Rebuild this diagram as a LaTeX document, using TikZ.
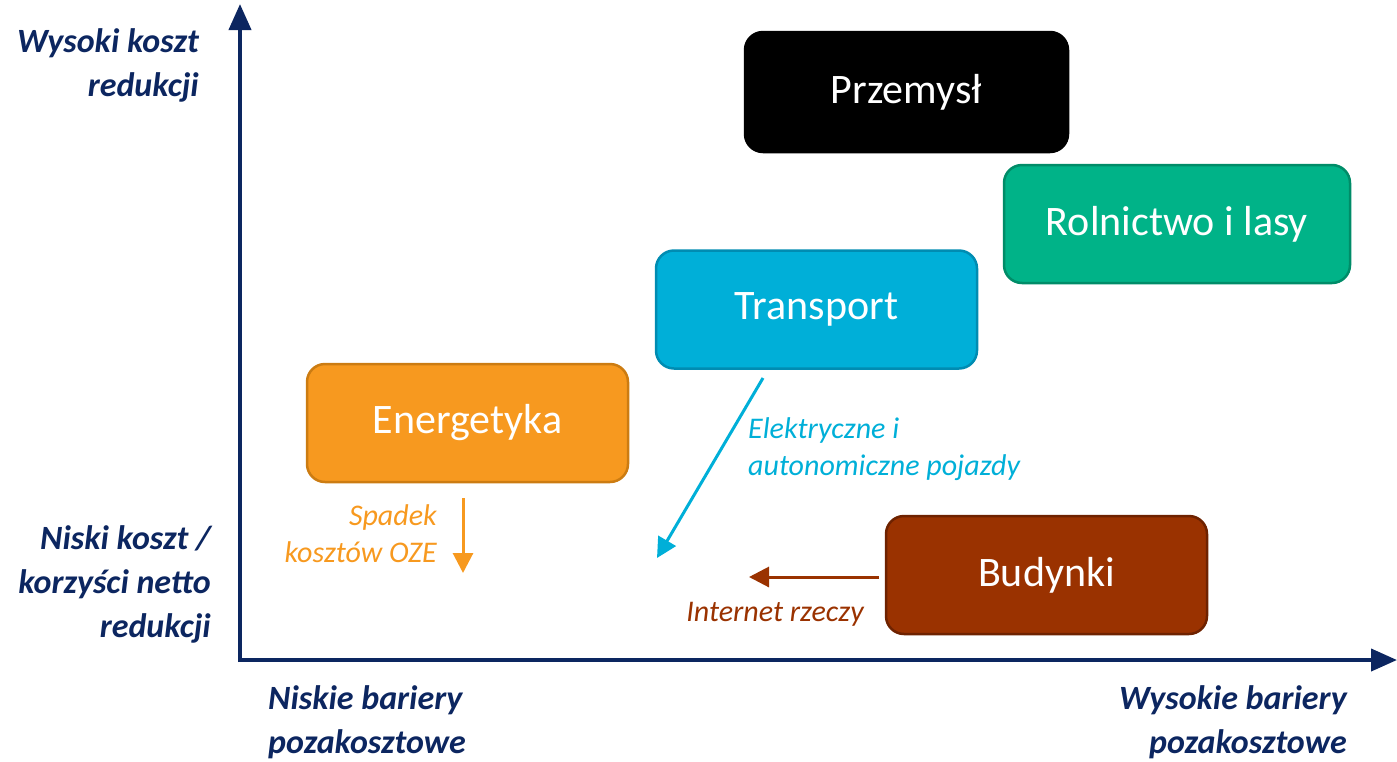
\documentclass[tikz,border=0pt]{standalone}
\usepackage{fontspec}
\setmainfont{Carlito}
\usetikzlibrary{arrows.meta}
\definecolor{navy}{RGB}{12,38,96}
\definecolor{orfill}{RGB}{247,153,31}
\definecolor{orline}{RGB}{204,124,18}
\definecolor{cyfill}{RGB}{0,175,216}
\definecolor{cyline}{RGB}{0,140,178}
\definecolor{grfill}{RGB}{0,179,136}
\definecolor{grline}{RGB}{0,140,104}
\definecolor{brfill}{RGB}{154,50,0}
\definecolor{brline}{RGB}{110,34,0}
\tikzset{
  sector/.style={rounded corners=18pt, line width=2.5pt, inner sep=0pt,
    minimum width=321pt, minimum height=118pt, text=white,
    font=\fontsize{42}{50}\selectfont},
  axislabel/.style={text=navy, font=\fontsize{34}{44}\selectfont\bfseries\itshape, inner sep=0pt},
  note/.style={font=\fontsize{30}{37}\selectfont\itshape, inner sep=0pt},
  axisline/.style={navy, line width=4pt, -{Triangle[length=26pt,width=22pt]}},
  trend/.style={line width=3pt, -{Triangle[length=20pt,width=20pt]}}
}
\begin{document}
\begin{tikzpicture}[x=1pt,y=-1pt]
\useasboundingbox (0,0) rectangle (1397,761);
% axes
\coordinate (origin) at (240,660);
\coordinate (ytop) at (240,4);
\coordinate (xend) at (1397,660);
\draw[axisline] (240,662) -- (ytop);
\draw[axisline] (238,660) -- (xend);
% sectors
\node[sector, draw=black, fill=black, minimum width=323pt, minimum height=120pt] (przemysl) at (906.5,92) {Przemysł};
\node[sector, draw=grline, fill=grfill, minimum width=346pt] (rolnictwo) at (1177,224) {Rolnictwo i lasy};
\node[sector, draw=cyline, fill=cyfill] (transport) at (816.5,309.5) {Transport};
\node[sector, draw=orline, fill=orfill] (energetyka) at (467.5,423) {Energetyka};
\node[sector, draw=brline, fill=brfill] (budynki) at (1046.5,575) {Budynki};
% trend arrows
\coordinate (ozeS) at (463,498);
\coordinate (ozeE) at (463,573);
\draw[trend, orfill] (ozeS) -- (ozeE);
\coordinate (evS) at (763,378);
\coordinate (evE) at (657,558);
\draw[trend, cyfill] (evS) -- (evE);
\coordinate (iotS) at (879,577);
\coordinate (iotE) at (749,577);
\draw[trend, brfill] (iotS) -- (iotE);
% trend labels
\node[note, text=orfill, align=right, anchor=east] (ozelabel) at (437,534) {Spadek\\kosztów OZE};
\node[note, text=cyfill, align=left, anchor=west] (evlabel) at (748,449) {Elektryczne i\\autonomiczne pojazdy};
\node[note, text=brfill] (iotlabel) at (775,614) {Internet rzeczy};
% axis labels
\node[axislabel, align=right, anchor=east] (yhigh) at (199,65) {Wysoki koszt\\redukcji};
\node[axislabel, align=right, anchor=east] (ylow) at (211,584) {Niski koszt /\\korzyści netto\\redukcji};
\node[axislabel, align=left, anchor=west] (xlow) at (268,722) {Niskie bariery\\pozakosztowe};
\node[axislabel, align=right, anchor=east] (xhigh) at (1347,722) {Wysokie bariery\\pozakosztowe};
\end{tikzpicture}
\end{document}
